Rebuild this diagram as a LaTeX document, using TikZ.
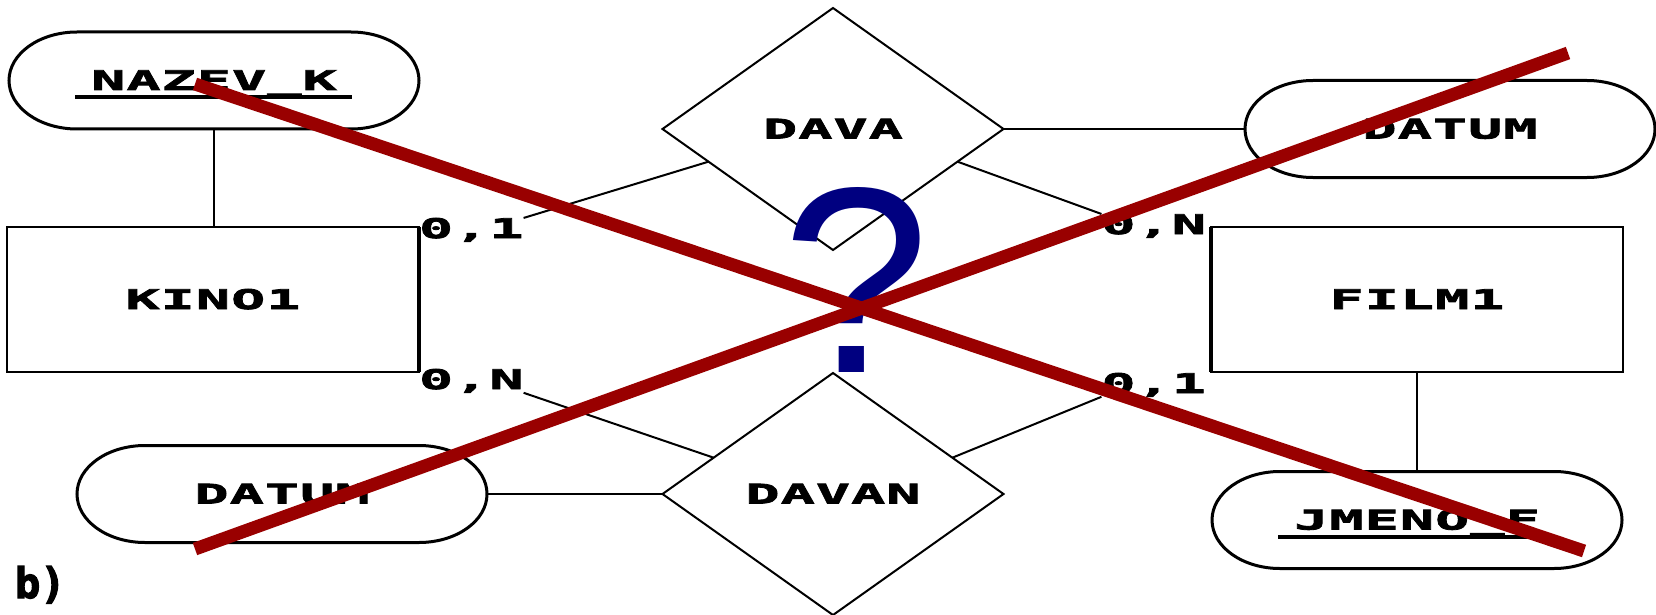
\documentclass[tikz,border=0pt]{standalone}
\usepackage{fontspec}
\usetikzlibrary{shapes.geometric,calc}
\setmainfont{DejaVu Sans}
\newfontfamily\erfont{DejaVu Sans Mono}[FakeStretch=2.1,LetterSpace=4,FakeBold=3]
\newfontfamily\bfontfam{DejaVu Sans Mono}[FakeBold=3]
\newfontfamily\qfont{Liberation Sans}
\definecolor{xred}{HTML}{990000}
\definecolor{qblue}{HTML}{000080}
\newcommand\stadium[1]{([xshift=68pt]#1.north west) -- ([xshift=-68pt]#1.north east)
  arc[start angle=90,end angle=-90,x radius=68pt,y radius=48.5pt]
  -- ([xshift=68pt]#1.south west)
  arc[start angle=270,end angle=90,x radius=68pt,y radius=48.5pt] -- cycle}
\begin{document}
\begin{tikzpicture}[x=1pt,y=-1pt,
  every node/.style={inner sep=0pt,outer sep=0pt},
  ertext/.style={font=\erfont\bfseries\fontsize{27}{30}\selectfont},
  entity/.style={ertext,draw,line width=2pt,minimum width=412pt,minimum height=145pt,text height=19pt,text depth=0pt},
  attr/.style={ertext,minimum width=410pt,minimum height=97pt,text height=19pt,text depth=0pt},
  attrline/.style={line width=3pt},
  rel/.style={ertext,draw,diamond,line width=2pt,minimum width=341pt,minimum height=242pt,text height=19pt,text depth=0pt},
  lab/.style={ertext},
  conn/.style={line width=2.5pt},
  relconn/.style={line width=2pt},
  ul/.style={line width=4pt},
  xline/.style={line width=13pt,draw=xred,line cap=butt}]
\useasboundingbox (0,0) rectangle (1656,615);

% entities
\node[entity] (kino) at (213,299.5) {KINO1};
\node[entity] (film) at (1417,299.5) {FILM1};
\draw[line width=3.5pt] (kino.north east) -- (kino.south east);
\draw[line width=3.5pt] (film.north west) -- (film.south west);

% attributes
\node[attr] (nazev) at (214,80.5) {NAZEV\_K};
\node[attr] (datum1) at (1450,129) {DATUM};
\node[attr] (datum2) at (282,494) {DATUM};
\node[attr] (jmeno) at (1417,520) {JMENO\_F};
\draw[attrline] \stadium{nazev};
\draw[attrline] \stadium{datum1};
\draw[attrline] \stadium{datum2};
\draw[attrline] \stadium{jmeno};
\draw[ul] ($(nazev.center)+(-139,16.5)$) -- ($(nazev.center)+(138,16.5)$);
\draw[ul] ($(jmeno.center)+(-139,16.5)$) -- ($(jmeno.center)+(138,16.5)$);

% relationships
\node[rel] (dava) at (833,129) {DAVA};
\node[rel] (davan) at (833,494) {DAVAN};

% cardinalities
\node[lab,anchor=base west] (l1) at (419,238) {0,1};
\node[lab,anchor=base west] (l2) at (419,389) {0,N};
\node[lab,anchor=base east] (l3) at (1206,234) {0,N};
\node[lab,anchor=base east] (l4) at (1206,393) {0,1};

% connectors
\draw[conn] (nazev.south) -- (nazev.south |- kino.north);
\draw[conn] (film.south) -- (jmeno.north);
\draw[relconn] (dava.east) -- (datum1.west);
\draw[relconn] (datum2.east) -- (davan.west);
\draw[relconn] (l1.north east) -- ($(dava.west)!0.27!(dava.south)$);
\draw[relconn] ($(dava.east)!0.27!(dava.south)$) -- (l3.north west);
\draw[relconn] (l2.south east) -- ($(davan.west)!0.3!(davan.north)$);
\draw[relconn] ($(davan.east)!0.3!(davan.north)$) -- (l4.south west);

% label b)
\node[font=\bfontfam\bfseries\fontsize{42}{42}\selectfont,anchor=base west] (b) at (15,598) {b)};

% question mark
\node[text=qblue,font=\qfont\fontsize{265}{265}\selectfont,anchor=base] (q) at (856,372) {?};

% red cross
\coordinate (xa1) at (195,84);
\coordinate (xa2) at (1584,551);
\coordinate (xb1) at (195,549);
\coordinate (xb2) at (1568,53);
\draw[xline] (xa1) -- (xa2);
\draw[xline] (xb1) -- (xb2);
\end{tikzpicture}
\end{document}
